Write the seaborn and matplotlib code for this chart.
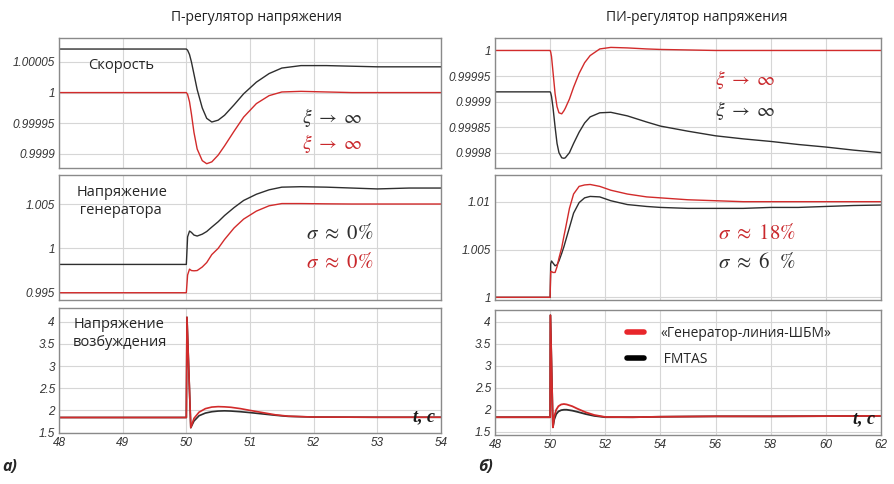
import numpy as np
import pandas as pd
import matplotlib
matplotlib.use('Agg')
import matplotlib.pyplot as plt
from matplotlib.lines import Line2D
from matplotlib.ticker import FuncFormatter
import seaborn as sns

# --- data ---
GEN = '«Генератор-линия-ШБМ»'
FMT = 'FMTAS'

# а) P-regulator, time axis 48..54 s
t_a = [48, 50, 50.02, 50.05, 50.08, 50.12, 50.17, 50.25, 50.32, 50.4, 50.5, 50.6,
       50.75, 50.9, 51.1, 51.3, 51.5, 51.8, 52.2, 52.6, 53, 53.5, 54]
speed_a_fmt = [1.000071, 1.000071, 1.000069, 1.000062, 1.000050, 1.000030, 1.000005,
               0.999975, 0.999958, 0.999952, 0.999955, 0.999963, 0.999980, 0.999998,
               1.000017, 1.000031, 1.000040, 1.000044, 1.000044, 1.000043, 1.000042,
               1.000042, 1.000042]
speed_a_gen = [1.0, 1.0, 0.999997, 0.999985, 0.999965, 0.999935, 0.999908, 0.999889,
               0.999884, 0.999887, 0.999898, 0.999913, 0.999937, 0.999960, 0.999982,
               0.999995, 1.000001, 1.000002, 1.000001, 1.0, 1.0, 1.0, 1.0]
ug_a_fmt = [0.99819, 0.99819, 1.0013, 1.00195, 1.0018, 1.0015, 1.00139, 1.0016, 1.0019,
            1.0024, 1.0030, 1.0037, 1.0046, 1.0054, 1.0061, 1.0066, 1.0069, 1.00695,
            1.0069, 1.0068, 1.0067, 1.0068, 1.0068]
ug_a_gen = [0.995, 0.995, 0.9970, 0.99766, 0.9975, 0.99747, 0.9975, 0.9979, 0.9984,
            0.9993, 1.0000, 1.0010, 1.0023, 1.0033, 1.0042, 1.0048, 1.00505, 1.00505,
            1.00502, 1.005, 1.005, 1.005, 1.005]

t_ae = [48, 50, 50.01, 50.07, 50.12, 50.2, 50.3, 50.4, 50.5, 50.6, 50.7, 50.85,
        51.0, 51.2, 51.4, 51.6, 52, 53, 54]
uf_a_gen = [1.84, 1.84, 4.1, 1.61, 1.82, 1.96, 2.04, 2.075, 2.085, 2.08, 2.07, 2.04,
            2.0, 1.95, 1.9, 1.87, 1.85, 1.845, 1.845]
uf_a_fmt = [1.84, 1.84, 4.1, 1.61, 1.76, 1.88, 1.94, 1.97, 1.985, 1.99, 1.985, 1.97,
            1.95, 1.92, 1.89, 1.865, 1.85, 1.845, 1.845]

# б) PI-regulator, time axis 48..62 s
t_b = [48, 50, 50.02, 50.05, 50.1, 50.18, 50.25, 50.32, 50.42, 50.5, 50.55, 50.7,
       50.85, 51.05, 51.25, 51.45, 51.8, 52.2, 52.8, 53.5, 54, 55, 56, 57, 58, 59,
       60, 61, 62]
speed_b_gen = [1.0, 1.0, 0.999997, 0.999988, 0.999960, 0.999915, 0.999890, 0.999878,
               0.999876, 0.999882, 0.999887, 0.999905, 0.999928, 0.999955, 0.999976,
               0.999990, 1.000003, 1.000006, 1.000005, 1.000003, 1.000002, 1.000001,
               1.0, 1.0, 1.0, 1.0, 1.0, 1.0, 1.0]
speed_b_fmt = [0.999919, 0.999919, 0.999917, 0.999910, 0.999890, 0.999850, 0.999818,
               0.999800, 0.999790, 0.999789, 0.999790, 0.999800, 0.999818, 0.999840,
               0.999858, 0.999870, 0.999878, 0.999879, 0.999872, 0.999860, 0.999852,
               0.999842, 0.999833, 0.999827, 0.999822, 0.999816, 0.999811, 0.999805,
               0.999800]
ug_b_gen = [1.0, 1.0, 1.0027, 1.0027, 1.0026, 1.0026, 1.0032, 1.0041, 1.0052, 1.0064,
            1.0071, 1.0093, 1.0108, 1.0116, 1.01175, 1.0118, 1.0116, 1.0112, 1.0108,
            1.0105, 1.0104, 1.0102, 1.0101, 1.0100, 1.0100, 1.0100, 1.0100, 1.0100, 1.0100]
ug_b_fmt = [1.0, 1.0, 1.0035, 1.0038, 1.0036, 1.0033, 1.0034, 1.0038, 1.0046, 1.0053,
            1.0058, 1.0073, 1.0088, 1.0099, 1.0104, 1.01055, 1.0105, 1.0101, 1.0097,
            1.0095, 1.0094, 1.0093, 1.0093, 1.0093, 1.0094, 1.0094, 1.0095, 1.0096, 1.00965]

t_be = [48, 50, 50.01, 50.1, 50.15, 50.22, 50.3, 50.4, 50.5, 50.6, 50.8, 51.0, 51.3,
        51.6, 52, 53, 54, 56, 58, 60, 62]
uf_b_gen = [1.83, 1.83, 4.15, 1.6, 1.85, 2.0, 2.08, 2.12, 2.13, 2.12, 2.08, 2.02, 1.94,
            1.88, 1.835, 1.83, 1.84, 1.85, 1.85, 1.855, 1.86]
uf_b_fmt = [1.83, 1.83, 4.15, 1.6, 1.78, 1.9, 1.96, 1.99, 2.0, 2.0, 1.98, 1.95, 1.9,
            1.86, 1.83, 1.83, 1.84, 1.85, 1.85, 1.855, 1.86]

titles = ['П-регулятор напряжения', 'ПИ-регулятор напряжения']
xticks_a = [48, 49, 50, 51, 52, 53, 54]
xticks_b = [48, 50, 52, 54, 56, 58, 60, 62]

# --- style ---
sns.set_theme(style='whitegrid')
plt.rcParams['font.family'] = ['Open Sans', 'DejaVu Sans']
plt.rcParams['mathtext.fontset'] = 'stix'
RED = '#d22b2b'
BLK = '#2e2e2e'
TXT_RED = '#c9282c'
palette = {GEN: RED, FMT: BLK}
SERIF = ['Liberation Serif', 'DejaVu Serif']
XI = r'$\xi\ \rightarrow\ \infty$'

fig = plt.figure(figsize=(8.95, 4.84), dpi=100)


def add_ax(rect):
    ax = fig.add_axes(rect)
    ax.set_facecolor('white')
    ax.grid(True, color='#d6d6d6', lw=0.8)
    for s in ax.spines.values():
        s.set_color('#8a8a8a')
        s.set_linewidth(1.0)
    ax.tick_params(length=0, pad=3, labelsize=8.5, labelcolor='#333333')
    return ax


def draw(ax, t, fmt, gen, lw=1.0):
    df = pd.DataFrame({'t': list(t) * 2, 'v': list(fmt) + list(gen),
                       'model': [FMT] * len(t) + [GEN] * len(t)})
    sns.lineplot(data=df, x='t', y='v', hue='model', hue_order=[FMT, GEN],
                 palette=palette, estimator=None, sort=False, lw=lw,
                 legend=False, ax=ax)
    ax.set_xlabel('')
    ax.set_ylabel('')


def ticks(ax, xt, yt, xlim, ylim, show_x):
    ax.set_xlim(*xlim)
    ax.set_ylim(*ylim)
    ax.set_xticks(xt)
    ax.set_yticks(yt)
    ax.yaxis.set_major_formatter(FuncFormatter(lambda v, p: f'{v:g}'))
    ax.xaxis.set_major_formatter(FuncFormatter(lambda v, p: f'{v:g}'))
    if not show_x:
        ax.set_xticklabels([])
    for lab in ax.get_yticklabels() + ax.get_xticklabels():
        lab.set_fontstyle('italic')
        lab.set_family(['Liberation Sans', 'DejaVu Sans'])


def rect(x0, x1, y0, y1):
    return [x0 / 895, 1 - y1 / 484, (x1 - x0) / 895, (y1 - y0) / 484]


def note(ax, x, y, s, color, size=14):
    ax.text(x, y, s, transform=ax.transAxes, fontsize=size, va='center', color=color)


# left column
ax1 = add_ax(rect(59, 441, 38, 168))
draw(ax1, t_a, speed_a_fmt, speed_a_gen)
ticks(ax1, xticks_a, [0.9999, 0.99995, 1.0, 1.00005], (48, 54), (0.999877, 1.000089), False)
ax1.text(0.076, 0.79, 'Скорость', transform=ax1.transAxes, fontsize=10.5, va='center')
note(ax1, 0.636, 0.39, XI, BLK)
note(ax1, 0.636, 0.185, XI, TXT_RED)

ax2 = add_ax(rect(59, 441, 175, 300))
draw(ax2, t_a, ug_a_fmt, ug_a_gen)
ticks(ax2, xticks_a, [0.995, 1.0, 1.005], (48, 54), (0.99418, 1.00827), False)
ax2.text(0.045, 0.79, 'Напряжение\n генератора', transform=ax2.transAxes, fontsize=10.5,
         va='center', linespacing=1.25)
note(ax2, 0.647, 0.536, r'$\sigma\ \approx\ 0\%$', BLK, 15)
note(ax2, 0.647, 0.296, r'$\sigma\ \approx\ 0\%$', TXT_RED, 15)

ax3 = add_ax(rect(59, 441, 308, 433))
draw(ax3, t_ae, uf_a_fmt, uf_a_gen, lw=1.2)
ticks(ax3, xticks_a, [1.5, 2, 2.5, 3, 3.5, 4], (48, 54), (1.49, 4.31), True)
ax3.text(0.037, 0.796, 'Напряжение\nвозбуждения', transform=ax3.transAxes, fontsize=10.5,
         va='center', linespacing=1.25)
ax3.text(0.985, 0.06, 't, c', transform=ax3.transAxes, fontsize=13, ha='right',
         va='bottom', family=SERIF, weight='bold', style='italic', color='#1a1a1a')

# right column
ax4 = add_ax(rect(495, 881, 38, 168))
draw(ax4, t_b, speed_b_fmt, speed_b_gen)
ticks(ax4, xticks_b, [0.9998, 0.99985, 0.9999, 0.99995, 1.0], (48, 62), (0.99977, 1.0000244), False)
note(ax4, 0.57, 0.677, XI, TXT_RED)
note(ax4, 0.57, 0.446, XI, BLK)

ax5 = add_ax(rect(495, 881, 175, 300))
draw(ax5, t_b, ug_b_fmt, ug_b_gen)
ticks(ax5, xticks_b, [1.0, 1.005, 1.01], (48, 62), (0.99972, 1.01279), False)
note(ax5, 0.578, 0.536, r'$\sigma\ \approx\ 18\%$', TXT_RED, 15)
note(ax5, 0.578, 0.296, r'$\sigma\ \approx\ 6\ \ \%$', BLK, 15)

ax6 = add_ax(rect(495, 881, 310, 435))
draw(ax6, t_be, uf_b_fmt, uf_b_gen, lw=1.3)
ticks(ax6, xticks_b, [1.5, 2, 2.5, 3, 3.5, 4], (48, 62), (1.425, 4.27), True)
ax6.text(0.985, 0.06, 't, c', transform=ax6.transAxes, fontsize=13, ha='right',
         va='bottom', family=SERIF, weight='bold', style='italic', color='#1a1a1a')
handles = [Line2D([], [], color='#e8262b', lw=4), Line2D([], [], color='black', lw=4)]
ax6.legend(handles, [GEN, ' ' + FMT], loc='upper left', bbox_to_anchor=(0.31, 0.97),
           frameon=False, fontsize=10, handlelength=1.2, handletextpad=1.2,
           labelspacing=0.75)

# titles and panel letters
fig.text(0.287, 0.963, titles[0], ha='center', va='center', fontsize=10, color='#222222')
fig.text(0.779, 0.963, titles[1], ha='center', va='center', fontsize=10, color='#222222')
fig.text(0.003, 1 - 467 / 484, 'а)', ha='left', va='center', fontsize=11.5,
         weight='bold', style='italic')
fig.text(0.534, 1 - 467 / 484, 'б)', ha='left', va='center', fontsize=11.5,
         weight='bold', style='italic')

fig.savefig('out.png', dpi=100, facecolor='white')
